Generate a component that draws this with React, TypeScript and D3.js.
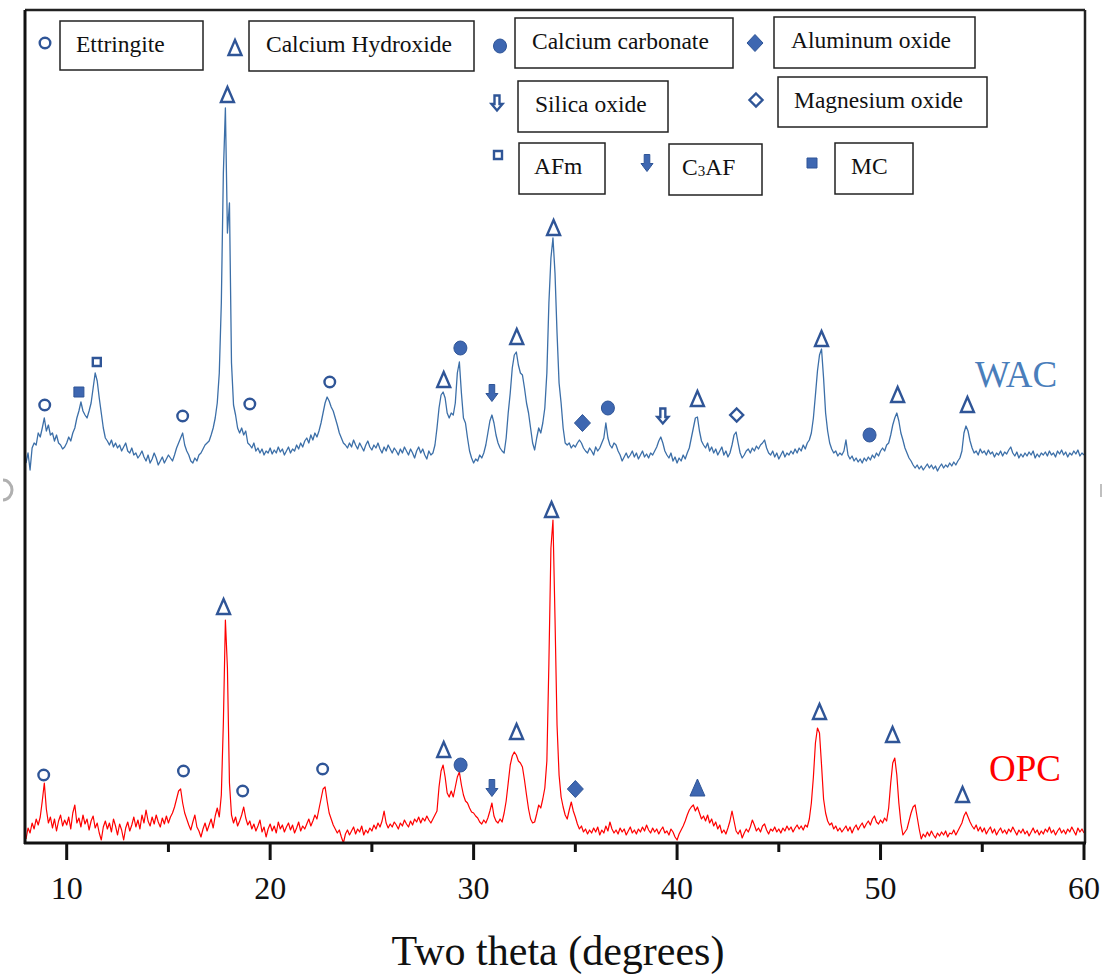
import React from 'react';
import * as d3 from 'd3';

// ---- data ----
const TWO_THETA_START = 8;
const TWO_THETA_STEP = 0.1;
const X_MAJOR_TICKS = [10, 20, 30, 40, 50, 60];
const X_MINOR_TICKS = [15, 25, 35, 45, 55];
const X_DOMAIN = [8, 60];
const Y_DOMAIN = [0, 840];
const WAC_OFFSET = 370;

// OPC intensity (a.u.), 8.0 .. 60.0 step 0.1
const OPC = [
  4, 15, 10, 20, 14, 24, 18, 26, 42, 60,
  34, 20, 26, 15, 24, 12, 22, 28, 17, 23,
  18, 26, 14, 30, 38, 20, 25, 16, 28, 19,
  24, 13, 22, 27, 15, 20, 10, 3, 16, 22,
  14, 20, 11, 24, 17, 8, 19, 13, 3, 15,
  21, 12, 18, 26, 16, 23, 14, 28, 20, 33,
  22, 17, 26, 19, 28, 21, 16, 25, 19, 27,
  20, 26, 30, 36, 44, 52, 54, 40, 30, 24,
  18, 13, 21, 28, 16, 12, 6, 14, 20, 12,
  18, 24, 15, 27, 35, 26, 48, 120, 223, 175,
  60, 28, 20, 26, 17, 22, 28, 36, 25, 18,
  22, 14, 19, 12, 17, 23, 11, 16, 6, 14,
  19, 12, 17, 10, 21, 14, 18, 11, 16, 20,
  13, 18, 10, 15, 21, 12, 17, 14, 19, 24,
  17, 22, 28, 24, 34, 44, 54, 56, 42, 30,
  24, 18, 14, 10, 13, 6, 0, 9, 13, 8,
  12, 16, 9, 14, 11, 17, 8, 13, 10, 15,
  12, 18, 14, 20, 16, 22, 32, 20, 15, 19,
  16, 21, 18, 14, 20, 17, 23, 19, 16, 22,
  18, 24, 21, 26, 20, 25, 22, 27, 23, 20,
  24, 28, 32, 56, 72, 78, 66, 50, 46, 52,
  46, 56, 66, 71, 58, 48, 42, 40, 35, 31,
  30, 27, 25, 21, 19, 23, 20, 25, 32, 40,
  27, 22, 20, 24, 21, 30, 42, 60, 78, 87,
  91, 88, 82, 80, 76, 63, 48, 34, 24, 20,
  21, 29, 38, 35, 44, 55, 82, 180, 295, 323,
  225, 118, 68, 46, 36, 28, 24, 33, 41, 32,
  26, 19, 14, 17, 11, 14, 9, 13, 10, 15,
  11, 16, 8, 13, 10, 17, 12, 21, 14, 10,
  13, 9, 15, 11, 14, 8, 12, 16, 10, 13,
  9, 14, 11, 16, 12, 18, 13, 10, 15, 11,
  14, 9, 13, 16, 10, 12, 8, 14, 11, 6,
  3, 9, 13, 17, 22, 28, 33, 36, 38, 32,
  36, 30, 24, 27, 22, 28, 20, 24, 17, 21,
  14, 18, 10, 13, 9, 15, 22, 32, 22, 12,
  9, 13, 5, 10, 14, 11, 16, 23, 18, 12,
  15, 11, 17, 19, 13, 9, 14, 12, 16, 11,
  14, 10, 15, 12, 17, 13, 16, 11, 15, 18,
  14, 17, 13, 18, 16, 24, 40, 66, 100, 115,
  110, 78, 44, 30, 22, 18, 20, 14, 17, 12,
  15, 11, 14, 17, 12, 16, 10, 15, 18, 13,
  17, 20, 15, 19, 22, 18, 24, 27, 21, 19,
  23, 20, 25, 22, 35, 60, 80, 85, 68, 40,
  20, 8, 11, 14, 22, 30, 36, 38, 26, 14,
  4, 9, 6, 11, 7, 12, 8, 5, 10, 7,
  11, 8, 12, 6, 10, 9, 13, 8, 12, 16,
  20, 27, 31, 26, 21, 17, 14, 18, 12, 16,
  11, 15, 9, 13, 16, 10, 14, 8, 12, 15,
  10, 13, 9, 14, 11, 16, 12, 8, 13, 10,
  14, 9, 12, 7, 11, 15, 10, 13, 8, 12,
  9, 14, 11, 16, 10, 13, 8, 12, 15, 10,
  13, 9, 14, 11, 16, 12, 8, 15, 11, 14,
  10,
];

// WAC intensity (a.u.), 8.0 .. 60.0 step 0.1 (plotted with WAC_OFFSET)
const WAC = [
  10, 20, 3, 25, 30, 28, 40, 36, 45, 55,
  42, 48, 38, 40, 32, 38, 30, 28, 24, 26,
  30, 36, 32, 40, 45, 55, 62, 71, 62, 58,
  55, 62, 70, 85, 100, 92, 75, 60, 45, 35,
  32, 28, 33, 26, 30, 25, 28, 22, 26, 30,
  22, 20, 25, 18, 20, 15, 18, 22, 16, 12,
  18, 10, 14, 20, 15, 8, 12, 16, 10, 14,
  18, 15, 12, 18, 25, 30, 35, 40, 28, 22,
  18, 12, 10, 15, 12, 18, 20, 24, 28, 30,
  32, 38, 45, 55, 70, 100, 170, 300, 365, 240,
  270, 110, 68, 58, 45, 40, 45, 38, 42, 30,
  28, 25, 30, 22, 25, 20, 24, 18, 22, 20,
  25, 19, 23, 20, 26, 21, 24, 18, 22, 26,
  20, 24, 22, 28, 24, 30, 26, 32, 35, 30,
  38, 33, 40, 36, 42, 50, 60, 70, 76, 72,
  66, 62, 55, 48, 40, 35, 30, 28, 25, 30,
  26, 33, 28, 24, 30, 26, 22, 28, 32, 26,
  23, 28, 25, 30, 24, 20, 26, 22, 28, 24,
  20, 25, 22, 18, 24, 20, 26, 22, 18, 24,
  20, 15, 22, 26, 20, 24, 18, 14, 22, 18,
  20, 28, 45, 65, 78, 81, 75, 60, 55, 60,
  58, 70, 100, 111, 80, 55, 50, 35, 22, 15,
  10, 14, 12, 18, 15, 20, 28, 40, 52, 58,
  50, 38, 30, 25, 22, 20, 35, 60, 80, 105,
  118, 121, 108, 100, 98, 85, 70, 60, 45, 30,
  23, 35, 45, 40, 50, 65, 100, 170, 215, 235,
  200, 140, 90, 70, 45, 30, 28, 30, 25, 28,
  26, 30, 33, 30, 25, 22, 20, 25, 22, 18,
  26, 22, 25, 30, 35, 50, 35, 28, 25, 30,
  28, 22, 18, 12, 16, 20, 15, 18, 22, 16,
  20, 14, 18, 22, 16, 19, 15, 20, 18, 22,
  26, 32, 36, 30, 22, 18, 15, 20, 12, 16,
  10, 15, 12, 18, 14, 20, 25, 35, 45, 55,
  56, 42, 32, 28, 25, 30, 22, 26, 20, 24,
  18, 22, 26, 18, 22, 16, 20, 28, 38, 41,
  30, 20, 15, 18, 22, 24, 20, 25, 22, 27,
  24, 28, 30, 33, 25, 20, 18, 22, 16, 20,
  14, 18, 22, 16, 20, 18, 22, 19, 24, 20,
  25, 22, 28, 24, 30, 33, 40, 55, 78, 102,
  118, 124, 95, 60, 42, 30, 24, 20, 22, 17,
  20, 18, 22, 33, 18, 14, 17, 12, 15, 11,
  14, 10, 15, 12, 16, 13, 18, 15, 20, 17,
  22, 25, 22, 28, 30, 38, 48, 55, 60, 52,
  40, 33, 25, 20, 15, 12, 8, 5, 8, 4,
  7, 3, 6, 9, 5, 8, 4, 7, 2, 6,
  9, 5, 8, 6, 10, 7, 11, 8, 12, 15,
  22, 40, 47, 42, 32, 25, 20, 22, 18, 24,
  20, 22, 18, 23, 19, 21, 16, 20, 18, 22,
  17, 21, 19, 23, 26, 20, 17, 21, 15, 19,
  16, 20, 17, 21, 18, 22, 15, 19, 16, 20,
  18, 21, 17, 22, 18, 20, 16, 22, 19, 23,
  18, 21, 16, 20, 18, 22, 19, 23, 17, 20,
  18,
];

type Sym =
  | 'circle' | 'triangle' | 'dot' | 'diamond' | 'arrowHollow'
  | 'diamondHollow' | 'squareHollow' | 'arrow' | 'square' | 'triangleFilled';

const LEGEND_LABELS = [
  'Ettringite', 'Calcium Hydroxide', 'Calcium carbonate', 'Aluminum oxide',
  'Silica oxide', 'Magnesium oxide', 'AFm', 'C3AF', 'MC',
];
const LEGEND_SYMBOLS: Sym[] = [
  'circle', 'triangle', 'dot', 'diamond', 'arrowHollow', 'diamondHollow',
  'squareHollow', 'arrow', 'square',
];

// phase markers: [symbol, two theta, intensity]
const WAC_MARKERS: [Sym, number, number][] = [
  ['circle', 8.92, 68], ['square', 10.6, 81], ['squareHollow', 11.48, 111],
  ['circle', 15.7, 57], ['triangle', 17.9, 378], ['circle', 19.0, 69],
  ['circle', 22.93, 91], ['triangle', 28.53, 93], ['dot', 29.35, 125],
  ['arrow', 30.9, 80], ['triangle', 32.12, 136], ['triangle', 33.93, 245],
  ['diamond', 35.35, 50], ['dot', 36.6, 65], ['arrowHollow', 39.3, 57],
  ['triangle', 41.0, 74], ['diamondHollow', 42.93, 58], ['triangle', 47.1, 134],
  ['dot', 49.46, 38], ['triangle', 50.84, 78], ['triangle', 54.27, 68],
];
const OPC_MARKERS: [Sym, number, number][] = [
  ['circle', 8.87, 68], ['circle', 15.74, 72], ['triangle', 17.71, 236],
  ['circle', 18.65, 52], ['circle', 22.58, 74], ['triangle', 28.53, 93],
  ['dot', 29.36, 78], ['arrow', 30.9, 55], ['triangle', 32.11, 111],
  ['triangle', 33.83, 333], ['diamond', 35.0, 54], ['triangleFilled', 41.0, 55],
  ['triangle', 47.0, 131], ['triangle', 50.59, 108], ['triangle', 54.03, 48],
];

// ---- layout ----
const W = 1109;
const H = 974;
const PLOT = { left: 26, right: 1084, top: 10, bottom: 843 };
const LEGEND_LAYOUT = [
  { mx: 45, my: 43, bx: 60, by: 21, bw: 143, bh: 49, tx: 76 },
  { mx: 235, my: 48, bx: 249, by: 21, bw: 225, bh: 50, tx: 266 },
  { mx: 500, my: 46, bx: 515, by: 18, bw: 218, bh: 50, tx: 532 },
  { mx: 755, my: 43, bx: 774, by: 17, bw: 201, bh: 51, tx: 791 },
  { mx: 497, my: 103, bx: 518, by: 81, bw: 150, bh: 51, tx: 535 },
  { mx: 756, my: 100, bx: 778, by: 77, bw: 209, bh: 50, tx: 794 },
  { mx: 498, my: 155, bx: 519, by: 143, bw: 86, bh: 51, tx: 534 },
  { mx: 647, my: 163, bx: 669, by: 144, bw: 93, bh: 51, tx: 682 },
  { mx: 812, my: 163, bx: 835, by: 143, bw: 78, bh: 51, tx: 851 },
];

const MARK_STROKE = '#2F5597';
const MARK_FILL = '#3E67B1';
const SERIF = '"Liberation Serif", "Times New Roman", serif';

function symbolPath(s: Sym): string {
  switch (s) {
    case 'circle': return 'M5.3,0A5.3,5.3 0 1,1 -5.3,0A5.3,5.3 0 1,1 5.3,0Z';
    case 'dot': return 'M6.5,0A6.5,7 0 1,1 -6.5,0A6.5,7 0 1,1 6.5,0Z';
    case 'triangle': return 'M0,-8 L6.5,7 L-6.5,7 Z';
    case 'triangleFilled': return 'M0,-9 L7.5,8 L-7.5,8 Z';
    case 'diamond': return 'M0,-8.5 L8,0 L0,8.5 L-8,0 Z';
    case 'diamondHollow': return 'M0,-6.5 L6.5,0 L0,6.5 L-6.5,0 Z';
    case 'squareHollow': return 'M-4,-4 L4,-4 L4,4 L-4,4 Z';
    case 'square': return 'M-5,-5 L5,-5 L5,5 L-5,5 Z';
    case 'arrowHollow': return 'M-2.5,-7.5 L2.5,-7.5 L2.5,1 L5.5,1 L0,7.5 L-5.5,1 L-2.5,1 Z';
    case 'arrow': return 'M-2.8,-8.5 L2.8,-8.5 L2.8,0.5 L6,0.5 L0,8.5 L-6,0.5 L-2.8,0.5 Z';
  }
  return '';
}

function isHollow(s: Sym) {
  return s === 'circle' || s === 'triangle' || s === 'diamondHollow' || s === 'squareHollow' || s === 'arrowHollow';
}

function Marker({ s, x, y }: { s: Sym; x: number; y: number }) {
  const hollow = isHollow(s);
  return (
    <path
      d={symbolPath(s)}
      transform={`translate(${x},${y})`}
      fill={hollow ? 'white' : MARK_FILL}
      stroke={MARK_STROKE}
      strokeWidth={hollow ? 2.4 : 1}
      strokeLinejoin="miter"
    />
  );
}

export default function App() {
  const xs = d3.scaleLinear().domain(X_DOMAIN).range([PLOT.left, PLOT.right]);
  const ys = d3.scaleLinear().domain(Y_DOMAIN).range([PLOT.bottom, PLOT.bottom - 840]);
  const theta = (i: number) => TWO_THETA_START + i * TWO_THETA_STEP;
  const opcLine = d3.line<number>().x((_, i) => xs(theta(i))).y((v) => ys(v))(OPC) || '';
  const wacLine = d3.line<number>().x((_, i) => xs(theta(i))).y((v) => ys(v + WAC_OFFSET))(WAC) || '';

  return (
    <svg width={W} height={H} style={{ position: 'absolute', left: 0, top: 0, background: 'white' }}>
      <rect x={0} y={0} width={W} height={H} fill="white" />
      {/* stray marks at page edges */}
      <path d="M3,480 A9,10 0 0,1 3,500" fill="none" stroke="#b0b0b0" strokeWidth={3} />
      <line x1={1101} y1={484} x2={1101} y2={497} stroke="#c0c0c0" strokeWidth={2} />

      {/* series */}
      <path d={wacLine} fill="none" stroke="#3C6FA8" strokeWidth={1.3} strokeLinejoin="round" />
      <path d={opcLine} fill="none" stroke="#FF0000" strokeWidth={1.2} strokeLinejoin="round" />

      {/* frame */}
      <line x1={PLOT.left - 1} y1={PLOT.top} x2={PLOT.right + 1} y2={PLOT.top} stroke="#222" strokeWidth={2.5} />
      <line x1={PLOT.right + 1} y1={PLOT.top} x2={PLOT.right + 1} y2={PLOT.bottom} stroke="#222" strokeWidth={2.5} />
      <line x1={PLOT.left - 1} y1={PLOT.top} x2={PLOT.left - 1} y2={PLOT.bottom + 1} stroke="#111" strokeWidth={3} />
      <line x1={PLOT.left - 2} y1={PLOT.bottom} x2={PLOT.right + 2} y2={PLOT.bottom} stroke="#111" strokeWidth={3} />

      {/* ticks */}
      {X_MAJOR_TICKS.map((t) => (
        <g key={'M' + t}>
          <line x1={xs(t)} x2={xs(t)} y1={PLOT.bottom} y2={PLOT.bottom + 17} stroke="#111" strokeWidth={3} />
          <text x={xs(t)} y={PLOT.bottom + 56} textAnchor="middle" fontFamily={SERIF} fontSize={32} fill="#111">
            {t}
          </text>
        </g>
      ))}
      {X_MINOR_TICKS.map((t) => (
        <line key={'m' + t} x1={xs(t)} x2={xs(t)} y1={PLOT.bottom} y2={PLOT.bottom + 9} stroke="#111" strokeWidth={3} />
      ))}
      <text x={558} y={965} textAnchor="middle" fontFamily={SERIF} fontSize={42} fill="#111">
        Two theta (degrees)
      </text>

      {/* series labels */}
      <text x={975} y={387} fontFamily={SERIF} fontSize={37} fill="#4A7EBB">WAC</text>
      <text x={989} y={781} fontFamily={SERIF} fontSize={37} fill="#FF0000">OPC</text>

      {/* phase markers */}
      {WAC_MARKERS.map(([s, t, v], i) => (
        <Marker key={'w' + i} s={s} x={xs(t)} y={ys(v + WAC_OFFSET)} />
      ))}
      {OPC_MARKERS.map(([s, t, v], i) => (
        <Marker key={'o' + i} s={s} x={xs(t)} y={ys(v)} />
      ))}

      {/* legend */}
      {LEGEND_LABELS.map((lab, i) => {
        const L = LEGEND_LAYOUT[i];
        const m = lab.match(/^C(\d)(.*)$/);
        return (
          <g key={'l' + i}>
            <Marker s={LEGEND_SYMBOLS[i]} x={L.mx} y={L.my} />
            <rect x={L.bx} y={L.by} width={L.bw} height={L.bh} fill="white" stroke="#222" strokeWidth={1.5} />
            <text x={L.tx} y={L.by + 31} fontFamily={SERIF} fontSize={23.5} fill="#111">
              {m ? (
                <>
                  C<tspan fontSize={15} dy={1}>{m[1]}</tspan>
                  <tspan dy={-1}>{m[2]}</tspan>
                </>
              ) : (
                lab
              )}
            </text>
          </g>
        );
      })}
    </svg>
  );
}
